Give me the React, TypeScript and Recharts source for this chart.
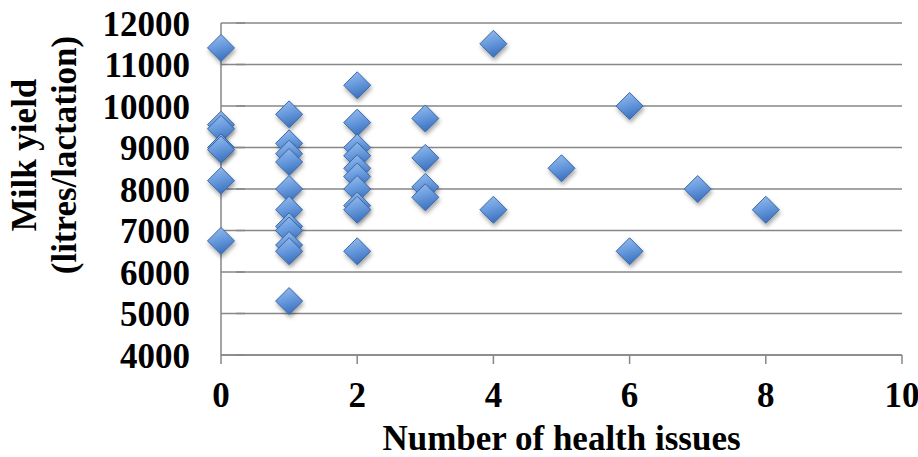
import React from "react";
import { ScatterChart, Scatter, XAxis, YAxis, CartesianGrid } from "recharts";

// Number of health issues recorded per cow
const healthIssues = [
  0, 0, 0, 0, 0, 0, 0,
  1, 1, 1, 1, 1, 1, 1, 1, 1, 1, 1,
  2, 2, 2, 2, 2, 2, 2, 2, 2, 2,
  3, 3, 3, 3,
  4, 4,
  5,
  6, 6,
  7,
  8,
];

// Milk yield for the same cows (litres per lactation)
const milkYield = [
  11400, 9550, 9450, 9000, 8950, 8200, 6750,
  9800, 9100, 8850, 8650, 8000, 7500, 7100, 7000, 6650, 6500, 5300,
  10500, 9600, 9000, 8800, 8500, 8300, 8000, 7600, 7500, 6500,
  9700, 8750, 8050, 7800,
  11500, 7500,
  8500,
  10000, 6500,
  8000,
  7500,
];

const xTicks = [0, 2, 4, 6, 8, 10];
const yTicks = [4000, 5000, 6000, 7000, 8000, 9000, 10000, 11000, 12000];

const points = healthIssues.map((issues, i) => ({ issues, yield: milkYield[i] }));

const FONT = "'Liberation Serif', 'Times New Roman', serif";
const FONT_SIZE = 35;
const AXIS_GREY = "#878787";

const Diamond = (props: any) => {
  const { cx, cy } = props;
  const r = 13.5;
  const pts = `${cx},${cy - r} ${cx + r},${cy} ${cx},${cy + r} ${cx - r},${cy}`;
  return (
    <polygon
      points={pts}
      fill="url(#diamondFill)"
      stroke="#3a68a8"
      strokeWidth={1}
      filter="url(#diamondShadow)"
    />
  );
};

const YTick = (props: any) => {
  const { x, y, payload } = props;
  return (
    <g>
      <line x1={x + 23} y1={y} x2={x + 32} y2={y} stroke={AXIS_GREY} strokeWidth={1.5} />
      <text
        x={190}
        y={y + 1}
        textAnchor="end"
        dominantBaseline="central"
        fontFamily={FONT}
        fontWeight="bold"
        fontSize={FONT_SIZE}
        fill="#000"
      >
        {payload.value}
      </text>
    </g>
  );
};

const XTick = (props: any) => {
  const { x, payload } = props;
  return (
    <g>
      <line x1={x} y1={355} x2={x} y2={364} stroke={AXIS_GREY} strokeWidth={1.5} />
      <text
        x={x}
        y={395}
        textAnchor="middle"
        dominantBaseline="central"
        fontFamily={FONT}
        fontWeight="bold"
        fontSize={FONT_SIZE}
        fill="#000"
      >
        {payload.value}
      </text>
    </g>
  );
};

const YTitle = () => (
  <text
    transform="translate(45,155) rotate(-90)"
    textAnchor="middle"
    fontFamily={FONT}
    fontWeight="bold"
    fontSize={FONT_SIZE}
    fill="#000"
  >
    <tspan x={0} y={-9}>Milk yield</tspan>
    <tspan x={0} y={31}>(litres/lactation)</tspan>
  </text>
);

const XTitle = () => (
  <text
    x={561.5}
    y={438}
    textAnchor="middle"
    dominantBaseline="central"
    fontFamily={FONT}
    fontWeight="bold"
    fontSize={FONT_SIZE}
    fill="#000"
  >
    Number of health issues
  </text>
);

export default function App() {
  return (
    <div style={{ position: "absolute", left: 0, top: 0, background: "#fff" }}>
      <ScatterChart
        width={918}
        height={457}
        margin={{ top: 23, right: 16, left: 0, bottom: 0 }}
      >
        <defs>
          <linearGradient id="diamondFill" x1="0" y1="0" x2="0.3" y2="1">
            <stop offset="0%" stopColor="#9fc0ec" />
            <stop offset="50%" stopColor="#6b9ddf" />
            <stop offset="100%" stopColor="#3f74c0" />
          </linearGradient>
          <filter id="diamondShadow" x="-50%" y="-50%" width="200%" height="200%">
            <feDropShadow dx="1" dy="3" stdDeviation="2" floodColor="#000" floodOpacity="0.35" />
          </filter>
        </defs>
        <CartesianGrid vertical={false} stroke={AXIS_GREY} strokeWidth={1.5} />
        <XAxis
          type="number"
          dataKey="issues"
          domain={[0, 10]}
          ticks={xTicks}
          height={102}
          axisLine={{ stroke: AXIS_GREY, strokeWidth: 1.5 }}
          tickLine={false}
          tick={<XTick />}
          interval={0}
          label={<XTitle />}
        />
        <YAxis
          type="number"
          dataKey="yield"
          domain={[4000, 12000]}
          ticks={yTicks}
          width={221}
          axisLine={{ stroke: AXIS_GREY, strokeWidth: 1.5 }}
          tickLine={false}
          tick={<YTick />}
          interval={0}
          label={<YTitle />}
        />
        <Scatter data={points} shape={<Diamond />} isAnimationActive={false} />
      </ScatterChart>
    </div>
  );
}
